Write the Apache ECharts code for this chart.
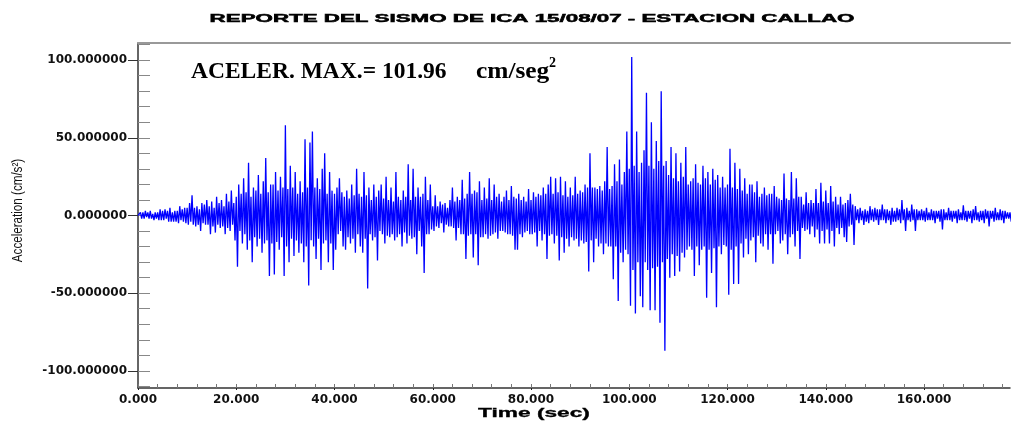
<!DOCTYPE html>
<html>
<head>
<meta charset="utf-8">
<title>Reporte del sismo de Ica - Estacion Callao</title>
<script src="https://cdn.jsdelivr.net/npm/echarts@6/dist/echarts.min.js"></script>
<style>
  html, body { margin: 0; padding: 0; background: #fff; }
  #chart { width: 1011px; height: 421px; }
</style>
</head>
<body>
<div id="chart"></div>
<script>
// DATA - acceleration (cm/s2) for every 0.5 s window:
// accA = the larger swing in the window, accB = the swing the other way
const dt = 0.5

const accA000 = [0, 2, -2, 3, -2, 3, -3, 2, -3, 4,
  -3, 4, -4, 5, -4, 3, -5, 6, -4, 5,
  -6, 8, 13, -7, 6, -10, 8, -6, 10, -12,
  9, -11, 12, -8, 10, -12, 14, -10, 16, -16]
const accB000 = [-1, -2, 2, -1, 2, -2, 1, -2, 2, -3,
  3, -2, 3, -4, 2, -4, 3, -3, 4, -5,
  5, -4, -6, 5, -6, 4, -5, 7, -6, 6,
  -7, 5, -6, 8, -7, 6, -8, 9, -6, 8]

const accA020 = [-33, 20, -18, 24, -22, 34, -30, 18, -20, 26,
  -24, 22, 37, -39, 20, -38, 28, -22, 25, -39,
  58, -30, 32, -26, 28, -24, 22, -30, 49, -45,
  47, 54, -28, 24, -35, 30, 40, -30, 28, -35]
const accB020 = [12, -10, 14, -12, 15, -16, 12, -14, 16, -15,
  14, -18, -16, 15, -18, 20, -17, 16, -14, 18,
  -20, 17, -15, 18, -16, 14, -18, 15, -20, 18,
  -16, -20, 18, -15, 17, -18, -16, 14, -18, 16]

const accA040 = [-22, 18, 24, -20, -22, 16, -18, 20, -24, 30,
  -20, -24, 28, -47, 18, -16, 20, -29, 16, 20,
  -18, 25, -14, 18, -16, 28, -12, -20, 16, -18,
  33, -15, 30, -25, 18, -20, -37, 25, -12, 20]
const accB040 = [14, -12, -10, 15, 12, -14, 11, -15, 13, -12,
  14, 12, -15, 13, -12, 10, -14, 12, -10, -12,
  11, -13, 10, -12, 9, -14, 12, 10, -11, 12,
  -13, 10, -14, 12, -10, 12, 14, -12, 10, -9]

const accA060 = [-10, 13, -8, 9, -11, 8, -7, 10, 18, -16,
  12, -12, 23, -28, 14, 28, -27, 16, -32, 22,
  -14, 18, -15, 24, -12, 20, -15, 14, -10, 12,
  16, -12, 19, -22, -22, 14, -14, 12, -10, 17]
const accB060 = [6, -7, 6, -5, 7, -6, 5, -7, -8, 9,
  -8, 10, -12, 11, -13, -12, 14, -12, 15, -14,
  10, -12, 11, -13, 10, -11, 12, -10, 9, -11,
  -12, 10, -13, 12, 11, -12, 10, -11, 9, -12]

const accA080 = [-12, 15, -20, 14, -16, 18, -28, 20, 25, -18,
  24, -29, 25, -24, 22, -20, 18, -16, 25, -20,
  16, -18, 20, -36, 40, -30, 18, -20, 19, -25,
  22, 44, -20, -41, 33, -55, 36, -30, 28, 54]
const accB080 = [10, -11, 12, -10, 13, -12, 14, -13, -12, 14,
  -13, 15, -14, 13, -15, 12, -14, 13, -15, 14,
  -16, 15, -17, 18, -16, 18, -15, 17, -18, 16,
  -18, -20, 17, 19, -20, 22, -24, 20, -22, -25]

const accA100 = [-58, 101.96, -63, 54, -52, -59, 42, 79, -61, 60,
  -61, 48, -69, 80, -87, 35, -40, 44, -39, 40,
  -36, 34, -27, 44, -20, 22, -39, 33, -32, 20,
  32, -53, 28, -37, 30, -59, 26, -25, 25, -20]
const accB100 = [30, -35, 32, -30, 28, 34, -30, -35, 32, -34,
  30, -33, 35, -30, 32, -28, 26, -25, 24, -26,
  22, -24, 25, -22, 20, -22, 24, -20, 21, -22,
  -20, 24, -22, 20, -21, 23, -20, 18, -19, 18]

const accA120 = [-51, 43, -44, 34, -44, 30, -27, 24, -25, 20,
  20, -30, 22, -18, -20, 18, -22, 14, -31, 19,
  12, -18, -16, 27, -25, -14, 28, -20, 24, -28,
  12, -10, 15, -12, 10, -14, 17, -18, 21, -18]
const accB120 = [20, -22, 18, -20, 17, -18, 16, -15, 14, -16,
  -14, 15, -13, 12, 14, -12, 13, -12, 14, -12,
  -10, 11, 10, -12, 11, 10, -12, 11, -10, 12,
  -8, 7, -9, 8, -7, 8, -9, 8, -10, 9]

const accA140 = [16, -18, 19, -20, 12, -12, 12, -14, -17, 10,
  14, -19, 6, -5, 5, -6, 4, -5, 6, -4,
  5, -6, 4, 7, -5, 4, -6, 5, -4, 5,
  -5, 10, -10, 5, -4, 7, -10, 4, -3, 4]
const accB140 = [-9, 8, -10, 9, -8, 7, -8, 7, 8, -7,
  -6, 7, -3, 4, -3, 3, -4, 3, -3, 4,
  -3, 4, -3, -3, 4, -3, 3, -4, 3, -3,
  4, -3, 4, -3, 3, -3, 4, -3, 3, -3]

const accA160 = [-4, 5, -3, 4, -5, 3, -4, -9, 4, -3,
  5, -4, 3, -5, 4, -3, 6.5, -4, 3, -5,
  4, 6, -4, 3, -5, 4, -7, 3, -4, 5,
  -3, 4, -5, 3, -2, -4]
const accB160 = [3, -3, 2, -3, 3, -2, 3, 4, -3, 2,
  -3, 3, -2, 3, -3, 2, -3, 3, -2, 3,
  -3, -3, 2, -3, 3, -2, 3, -2, 3, -3,
  2, -3, 3, -2, 2, 2]

// ticks
const yMajorTicks = [-100, -50, 0, 50, 100]
const yMinorTicks = [-110, -100, -90, -80, -70, -60, -50, -40, -30, -20, -10,
  0, 10, 20, 30, 40, 50, 60, 70, 80, 90, 100, 110]
const xMajorTicks = [0, 20, 40, 60, 80, 100, 120, 140, 160]
const xMinorTicks = [0, 4, 8, 12, 16, 20, 24, 28, 32, 36, 40, 44, 48, 52, 56, 60,
  64, 68, 72, 76, 80, 84, 88, 92, 96, 100, 104, 108, 112, 116, 120, 124, 128,
  132, 136, 140, 144, 148, 152, 156, 160, 164, 168, 172, 176]

const titleText = 'REPORTE DEL SISMO DE ICA 15/08/07 - ESTACION CALLAO'
const peakText = 'ACELER. MAX.= 101.96'
const unitText = 'cm/seg'
const yName = 'Acceleration (cm/s\u00b2)'
const xName = 'Time (sec)'

// BUILD - each window is drawn as its up swing then its down swing
const accA = [].concat(accA000, accA020, accA040, accA060, accA080, accA100, accA120, accA140, accA160)
const accB = [].concat(accB000, accB020, accB040, accB060, accB080, accB100, accB120, accB140, accB160)
const points = []
accA.forEach((a, i) => {
  const b = accB[i]
  points.push([i * dt, a >= b ? a : b])
  points.push([i * dt + dt / 2, a >= b ? b : a])
})

const labelFont = {
  fontFamily: '"DejaVu Sans", sans-serif',
  fontWeight: 'bold',
  fontSize: 12,
  color: '#111'
}

const textEl = (text, x, y, style, extra) => Object.assign({
  type: 'text',
  x: x,
  y: y,
  style: Object.assign({ text: text, fill: '#000', align: 'center', verticalAlign: 'middle' }, style)
}, extra)

const chart = echarts.init(document.getElementById('chart'), null, { renderer: 'canvas' })

chart.setOption({
  animation: false,
  backgroundColor: '#fff',
  grid: { left: 138, right: 1, top: 43, bottom: 33 },
  xAxis: [
    {
      type: 'value',
      min: 0,
      max: 177.5,
      axisLine: { onZero: false, lineStyle: { color: '#333', width: 1.5 } },
      axisTick: { inside: true, length: 4, customValues: xMinorTicks, lineStyle: { color: '#777' } },
      axisLabel: Object.assign({ margin: 6, customValues: xMajorTicks, formatter: v => v.toFixed(3) }, labelFont),
      splitLine: { show: false }
    },
    {
      type: 'value',
      position: 'bottom',
      min: 0,
      max: 177.5,
      axisLine: { show: false, onZero: false },
      axisTick: { inside: false, length: 2, customValues: xMajorTicks, lineStyle: { color: '#222' } },
      axisLabel: { show: false },
      splitLine: { show: false }
    },
    {
      type: 'value',
      position: 'top',
      min: 0,
      max: 177.5,
      axisLine: { onZero: false, lineStyle: { color: '#999', width: 2 } },
      axisTick: { show: false },
      axisLabel: { show: false },
      splitLine: { show: false }
    }
  ],
  yAxis: [
    {
      type: 'value',
      min: -111,
      max: 111,
      axisLine: { onZero: false, lineStyle: { color: '#333', width: 1.5 } },
      axisTick: { inside: false, length: 10, customValues: yMajorTicks, lineStyle: { color: '#333' } },
      axisLabel: Object.assign({ margin: 11, customValues: yMajorTicks, formatter: v => v.toFixed(6) }, labelFont),
      splitLine: { show: false }
    },
    {
      type: 'value',
      position: 'left',
      min: -111,
      max: 111,
      axisLine: { show: false, onZero: false },
      axisTick: { inside: true, length: 12, customValues: yMinorTicks, lineStyle: { color: '#888' } },
      axisLabel: { show: false },
      splitLine: { show: false }
    }
  ],
  series: [
    {
      type: 'line',
      data: points,
      showSymbol: false,
      sampling: null,
      lineStyle: { color: '#0000ff', width: 1.3 },
      itemStyle: { color: '#0000ff' },
      z: 1
    }
  ],
  graphic: [
    // title, stretched wide like the original
    textEl(titleText, 532, 19, {
      fontFamily: '"Liberation Sans", Arial, sans-serif',
      fontWeight: 'bold',
      fontSize: 11,
      stroke: '#000',
      lineWidth: 0.5
    }, { scaleX: 2.03 }),
    textEl(peakText, 191, 71.5, {
      fontFamily: '"Liberation Serif", "Times New Roman", serif',
      fontWeight: 'bold',
      fontSize: 23.5,
      align: 'left'
    }),
    textEl(unitText, 476, 71.5, {
      fontFamily: '"Liberation Serif", "Times New Roman", serif',
      fontWeight: 'bold',
      fontSize: 23.5,
      align: 'left'
    }, { scaleX: 1.08 }),
    textEl('2', 549, 63, {
      fontFamily: '"Liberation Serif", "Times New Roman", serif',
      fontWeight: 'bold',
      fontSize: 14,
      align: 'left'
    }),
    textEl(xName, 534, 413.5, {
      fontFamily: '"Liberation Sans", Arial, sans-serif',
      fontWeight: 'bold',
      fontSize: 12,
      stroke: '#000',
      lineWidth: 0.3
    }, { scaleX: 1.89 }),
    // y axis name, narrow
    textEl(yName, 18.5, 210.5, {
      fontFamily: '"Liberation Sans", Arial, sans-serif',
      fontSize: 14,
      fill: '#111'
    }, { rotation: Math.PI / 2, scaleX: 0.83 })
  ]
})
</script>
</body>
</html>
